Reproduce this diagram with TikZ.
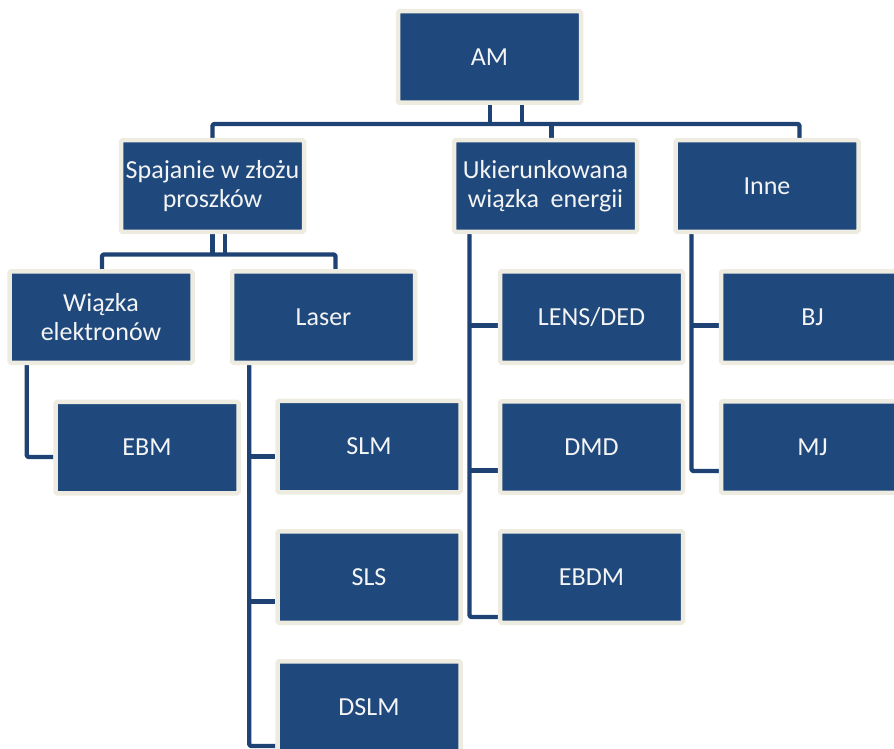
\documentclass[tikz,border=0pt]{standalone}
\usepackage{fontspec}
\setmainfont{Carlito}
\usetikzlibrary{backgrounds}
\definecolor{boxblue}{HTML}{1F497D}
\definecolor{linkblue}{HTML}{1E4274}
\definecolor{cream}{HTML}{EEECE1}
\definecolor{txt}{HTML}{F4F4F4}
\tikzset{
  box/.style={fill=boxblue, draw=cream, line width=4.5pt, rounded corners=1.5pt,
    minimum width=183pt, minimum height=91.5pt, inner sep=0pt, align=center,
    text=txt, font=\fontsize{26}{28.5}\selectfont},
  conn/.style={draw=linkblue, line width=4.3pt, line join=round, line cap=butt, rounded corners=1.5pt}
}
\begin{document}
\begin{tikzpicture}[x=1pt,y=-1pt]
\useasboundingbox (0,0) rectangle (894,749);
\node[box] (AM) at (489.5,57) {AM};
\node[box] (Spaj) at (212.5,186) {Spajanie w złożu\\proszków};
\node[box] (Ukie) at (545.5,186) {Ukierunkowana\\wiązka\ \ energii};
\node[box] (Inne) at (767,186) {Inne};
\node[box] (Wiaz) at (101,317) {Wiązka\\elektronów};
\node[box] (Laser) at (323.5,317) {Laser};
\node[box] (EBM) at (147,447.5) {EBM};
\node[box] (SLM) at (369,446.5) {SLM};
\node[box] (SLS) at (369,577) {SLS};
\node[box] (DSLM) at (369,707) {DSLM};
\node[box] (LENS) at (591.5,317) {LENS/DED};
\node[box] (DMD) at (591.5,447) {DMD};
\node[box] (EBDM) at (591.5,577) {EBDM};
\node[box] (BJ) at (812.5,317) {BJ};
\node[box] (MJ) at (812.5,447) {MJ};
\coordinate (busA) at (0,124);
\coordinate (busB) at (0,254.5);
\begin{pgfonlayer}{background}
% level 1
\draw[conn] ([xshift=0.5pt]AM.south) -- ([xshift=0.5pt]AM.south |- busA);
\draw[conn] ([xshift=32.5pt]AM.south) -- ([xshift=32.5pt]AM.south |- busA);
\draw[conn] (Spaj.north) -- (Spaj.north |- busA) -| ([xshift=32.5pt]Inne.north);
\draw[conn] ([xshift=6pt]Ukie.north |- busA) -- ([xshift=6pt]Ukie.north);
% level 2 under Spajanie
\draw[conn] (Spaj.south) -- (Spaj.south |- busB);
\draw[conn] ([xshift=12.5pt]Spaj.south) -- ([xshift=12.5pt]Spaj.south |- busB);
\draw[conn] ([xshift=1pt]Wiaz.north) -- ([xshift=1pt]Wiaz.north |- busB) -| ([xshift=12pt]Laser.north);
% Wiazka -> EBM
\draw[conn] ([xshift=19.5pt]Wiaz.south west) |- ([yshift=-9.5pt]EBM.west);
% Laser -> SLM, SLS, DSLM
\draw[conn] ([xshift=19.5pt]Laser.south west) |- ([yshift=-39pt]DSLM.west);
\draw[conn] ([xshift=19.5pt]Laser.south west |- SLM.west) ++(0,10) -- ([yshift=-10pt]SLM.west);
\draw[conn] ([xshift=19.5pt]Laser.south west |- SLS.west) ++(0,24.5) -- ([yshift=-24.5pt]SLS.west);
% Ukierunkowana -> LENS, DMD, EBDM
\draw[conn] ([xshift=17.75pt]Ukie.south west) |- ([yshift=-40pt]EBDM.west);
\draw[conn] ([xshift=17.75pt]Ukie.south west |- LENS.west) ++(0,8.5) -- ([yshift=-8.5pt]LENS.west);
\draw[conn] ([xshift=17.75pt]Ukie.south west |- DMD.west) ++(0,23.5) -- ([yshift=-23.5pt]DMD.west);
% Inne -> BJ, MJ
\draw[conn] ([xshift=18.25pt]Inne.south west) |- ([yshift=-24pt]MJ.west);
\draw[conn] ([xshift=18.25pt]Inne.south west |- BJ.west) ++(0,8.5) -- ([yshift=-8.5pt]BJ.west);
\end{pgfonlayer}
\end{tikzpicture}
\end{document}
